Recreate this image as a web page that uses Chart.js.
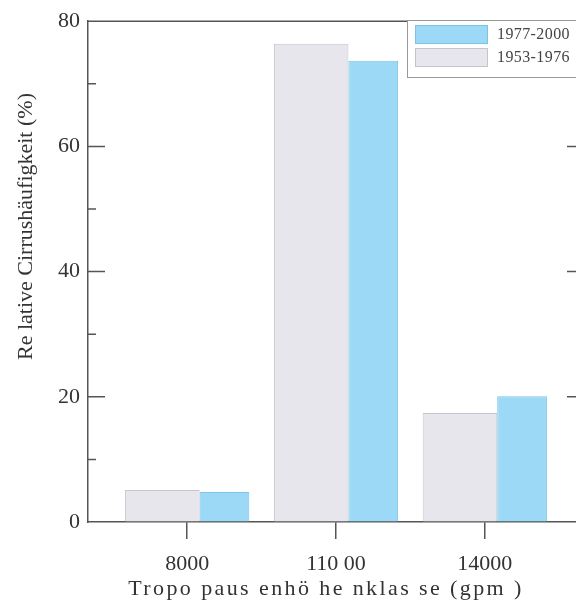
<!DOCTYPE html>
<html>
<head>
<meta charset="utf-8">
<script src="https://cdn.jsdelivr.net/npm/chart.js@4"></script>
<style>
  html, body { margin: 0; padding: 0; background: #fff; overflow: hidden; }
  #wrap { width: 600px; height: 606px; }
</style>
</head>
<body>
<div id="wrap"><canvas id="cirrusChart" width="600" height="606"></canvas></div>
<script>
// tropopause height classes (gpm) and their axis labels
const classes = [8000, 11000, 14000];
const classLabels = ['8000', '110 00', '14000'];

// relative cirrus frequency (%) per period
const early = [5.1, 76.4, 17.4];   // 1953-1976
const late = [4.8, 73.7, 20.1];    // 1977-2000

const yTicks = [0, 20, 40, 60, 80];
const seriesNames = ['1953-1976', '1977-2000'];

const axisColor = '#555';
const textColor = '#333';
const serif = "'Liberation Serif', 'DejaVu Serif', serif";
const grayShare = 0.6; // part of each bar pair taken by the older period

// older period gets the wider bar of each pair
const pairWidths = {
    id: 'pairWidths',
    afterDatasetsUpdate(chart) {
        const g = chart.getDatasetMeta(0).data;
        const b = chart.getDatasetMeta(1).data;
        g.forEach((gb, i) => {
            const bb = b[i];
            const left = gb.x - gb.width / 2;
            const right = bb.x + bb.width / 2;
            const mid = left + (right - left) * grayShare;
            gb.x = (left + mid) / 2;
            gb.width = mid - left;
            bb.x = (mid + right) / 2;
            bb.width = right - mid;
        });
    }
};

// frame: top/right border, inward ticks on both value axes, axis titles
const frame = {
    id: 'frame',
    afterDraw(chart) {
        const { ctx, chartArea: a, scales } = chart;
        const y = scales.y;
        ctx.save();
        ctx.strokeStyle = axisColor;
        ctx.lineWidth = 1.5;
        ctx.beginPath();
        ctx.moveTo(a.left, a.top);
        ctx.lineTo(a.right, a.top);
        ctx.lineTo(a.right, a.bottom);
        for (let v = 10; v < 80; v += 10) {
            const py = y.getPixelForValue(v);
            const len = v % 20 === 0 ? 17 : 8;
            ctx.moveTo(a.left, py);
            ctx.lineTo(a.left + len, py);
            ctx.moveTo(a.right, py);
            ctx.lineTo(a.right - len, py);
        }
        ctx.stroke();

        ctx.fillStyle = textColor;
        ctx.font = '22px ' + serif;
        ctx.textAlign = 'center';
        ctx.textBaseline = 'middle';

        // x axis title, loosely spaced
        ctx.save();
        ctx.letterSpacing = '2.4px';
        ctx.fillText('Tropo paus enhö he nklas se (gpm )', 326, 589);
        ctx.restore();

        // y axis title, set a little above the middle of the axis
        ctx.translate(26, a.top + (a.bottom - a.top) * 0.41);
        ctx.rotate(-Math.PI / 2);
        ctx.fillText('Re lative Cirrushäufigkeit (%)', 0, 0);
        ctx.restore();
    }
};

// boxed legend in the top right corner, newer period first
const boxLegend = {
    id: 'boxLegend',
    afterDraw(chart) {
        const { ctx } = chart;
        const ds = chart.data.datasets;
        const x0 = 407, y0 = 20, w = 190, h = 57;
        ctx.save();
        ctx.fillStyle = '#fff';
        ctx.fillRect(x0, y0, w, h);
        ctx.strokeStyle = '#999';
        ctx.lineWidth = 1;
        ctx.strokeRect(x0 + 0.5, y0 + 0.5, w, h);
        ctx.font = '16px ' + serif;
        ctx.letterSpacing = '0.4px';
        ctx.textBaseline = 'middle';
        [ds[1], ds[0]].forEach((d, i) => {
            const ry = y0 + 5 + i * 23;
            ctx.fillStyle = d.backgroundColor;
            ctx.fillRect(x0 + 8, ry, 73, 19);
            ctx.strokeStyle = d.borderColor;
            ctx.strokeRect(x0 + 8.5, ry + 0.5, 72, 18);
            ctx.fillStyle = '#444';
            ctx.fillText(d.label, x0 + 90, ry + 10);
        });
        ctx.restore();
    }
};

const ctx = document.getElementById('cirrusChart').getContext('2d');
new Chart(ctx, {
    type: 'bar',
    data: {
        datasets: [{
            label: seriesNames[0],
            data: classes.map((c, i) => ({ x: c, y: early[i] })),
            backgroundColor: '#e6e6ec',
            borderColor: '#c4c4cc',
            borderWidth: 1
        }, {
            label: seriesNames[1],
            data: classes.map((c, i) => ({ x: c, y: late[i] })),
            backgroundColor: '#9bd9f6',
            borderColor: '#7cc3e4',
            borderWidth: 1
        }]
    },
    options: {
        responsive: false,
        animation: false,
        categoryPercentage: 0.835,
        barPercentage: 1,
        layout: { padding: { top: 16, right: 16, left: 0, bottom: 0 } },
        plugins: {
            legend: { display: false },
            tooltip: { enabled: false }
        },
        scales: {
            x: {
                type: 'linear',
                min: 6000,
                max: 16000,
                offset: false,
                afterBuildTicks: (scale) => {
                    scale.ticks = classes.map(v => ({ value: v }));
                },
                afterFit: (scale) => { scale.height = 84; },
                grid: {
                    offset: false,
                    drawOnChartArea: false,
                    drawTicks: true,
                    tickLength: 17,
                    color: axisColor,
                    lineWidth: 1.5
                },
                border: { display: true, color: axisColor, width: 1.5 },
                ticks: {
                    padding: 12,
                    color: textColor,
                    font: { family: serif, size: 22 },
                    callback: (v) => classLabels[classes.indexOf(v)]
                }
            },
            y: {
                min: 0,
                max: 80,
                afterBuildTicks: (scale) => {
                    scale.ticks = yTicks.map(v => ({ value: v }));
                },
                afterFit: (scale) => { scale.width = 88; },
                grid: { drawOnChartArea: false, drawTicks: false },
                border: { display: true, color: axisColor, width: 1.5 },
                ticks: {
                    padding: 8,
                    color: textColor,
                    font: { family: serif, size: 22 }
                }
            }
        }
    },
    plugins: [pairWidths, frame, boxLegend]
});
</script>
</body>
</html>
